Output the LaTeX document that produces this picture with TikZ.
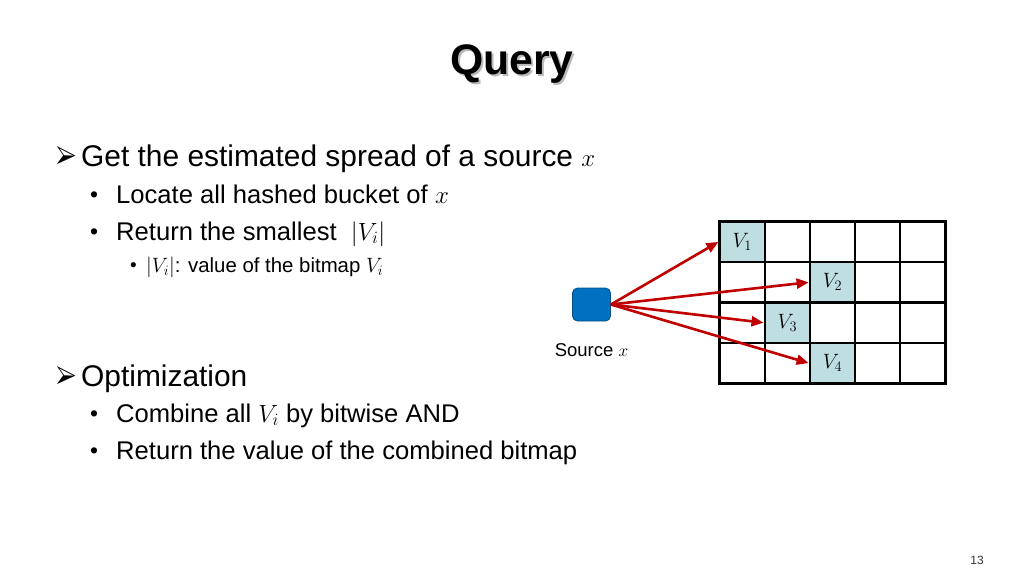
\documentclass[tikz,border=0pt]{standalone}
\usepackage{fontspec}
\usepackage{pifont}
\setmainfont{Liberation Sans}
\usetikzlibrary{
  arrows.meta,
  positioning
}
\definecolor{arrowred}{RGB}{192,0,0}
\definecolor{srcblue}{RGB}{0,112,192}
\definecolor{cellteal}{RGB}{190,222,226}
\definecolor{shadowgray}{RGB}{185,185,185}
\tikzset{
  lvlone/.style={anchor=base west,inner sep=0pt,font=\fontsize{29.9}{34}\selectfont},
  lvltwo/.style={anchor=base west,inner sep=0pt,font=\fontsize{25.6}{30}\selectfont},
  lvlthree/.style={anchor=base west,inner sep=0pt,font=\fontsize{20.4}{24}\selectfont},
  titletext/.style={font=\bfseries\fontsize{42.7}{48}\selectfont},
  cell/.style={
    draw=black,
    line width=2.6pt,
    minimum width=45.1pt,
    minimum height=40.4pt,
    inner sep=0pt
  },
  hitcell/.style={cell,fill=cellteal,font=\fontsize{20}{24}\selectfont},
  srcbox/.style={
    draw=srcblue!70!black,
    fill=srcblue,
    rounded corners=5pt,
    line width=0.8pt,
    minimum width=38pt,
    minimum height=33pt
  },
  hitarrow/.style={-{Triangle[length=12pt,width=10pt]},line width=2.6pt,draw=arrowred},
}
\newcommand{\armark}{\makebox[25pt][l]{\raisebox{-1.5pt}{\scalebox{0.95}[1.5]{\fontsize{23}{23}\selectfont\ding{226}}}}}
\newcommand{\dotmark}{\makebox[27pt][l]{\hspace{1pt}\raisebox{1pt}{\fontsize{23}{23}\selectfont •}}}
\newcommand{\smalldot}{\makebox[16pt][l]{\raisebox{1pt}{\fontsize{19}{19}\selectfont •}}}

\begin{document}
\begin{tikzpicture}[x=1pt,y=-1pt]
  \useasboundingbox (0,0) rectangle (1024,576);

  % Title
  \node[titletext,text=shadowgray] (titleshade) at (514,66) {Query};
  \node[titletext] (title) at (512,64) {Query};

  % Bullets
  \node[lvlone] (getspread) at (56,166) {\armark Get the estimated spread of a source $x$};
  \node[lvltwo] (locate) at (89,203) {\dotmark Locate all hashed bucket of $x$};
  \node[lvltwo] (smallest) at (89,240) {\dotmark Return the smallest \ $|V_i|$};
  \node[lvlthree] (bitmapval) at (130,272) {\smalldot $|V_i|$: value of the bitmap $V_i$};
  \node[lvlone] (optim) at (56,386) {\armark Optimization};
  \node[lvltwo] (combine) at (89,422) {\dotmark Combine all $V_i$ by bitwise AND};
  \node[lvltwo] (retval) at (89,459) {\dotmark Return the value of the combined bitmap};

  % Bitmap grid
  \foreach \r in {1,...,4}
    \foreach \c in {1,...,5}
      \node[cell] (c\r\c) at ({719.7+45.1*(\c-0.5)},{221.7+40.4*(\r-0.5)}) {};
  \foreach \r/\c/\k in {1/1/1,2/3/2,3/2/3,4/3/4}
    \node[hitcell] (v\k) at (c\r\c) {$V_\k$};

  % Source and hashes
  \node[srcbox] (src) at (591.5,304.5) {};
  \node[below=19pt of src,font=\fontsize{18.5}{22}\selectfont] (srclabel) {Source $x$};
  \foreach \k in {1,...,4}
    \draw[hitarrow] (src.east) -- (v\k.west);

  \node[font=\fontsize{12}{14}\selectfont,text=black!80] (pagenum) at (977,560) {13};
\end{tikzpicture}
\end{document}
